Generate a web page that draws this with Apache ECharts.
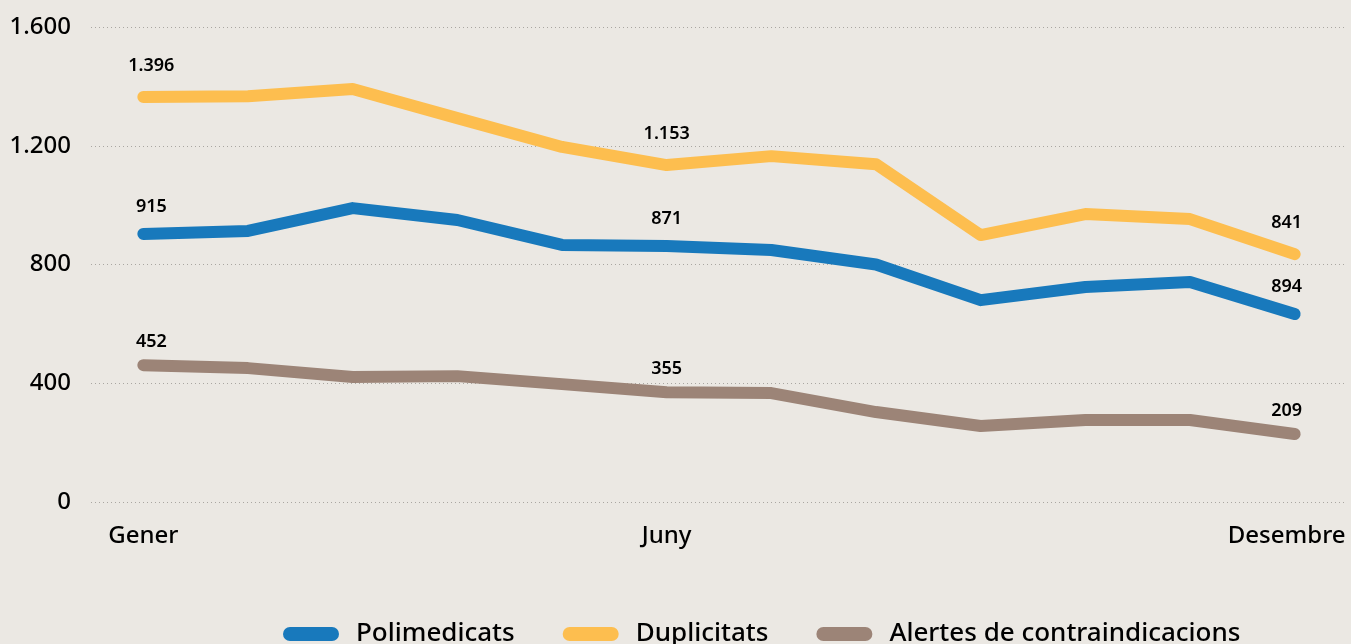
<!DOCTYPE html>
<html>
<head>
<meta charset="utf-8">
<script src="https://cdn.jsdelivr.net/npm/echarts@6/dist/echarts.min.js"></script>
<style>
  html, body { margin: 0; padding: 0; background: #ebe8e3; }
  #chart { width: 1351px; height: 644px; }
</style>
</head>
<body>
<div id="chart"></div>
<script>
// mesos
const months = ['Gener', 'Febrer', 'Març', 'Abril', 'Maig', 'Juny', 'Juliol', 'Agost', 'Setembre', 'Octubre', 'Novembre', 'Desembre'];
const shownMonths = [0, 5, 11];

// valors llegits del gràfic
const polimedicats = [903, 913, 990, 950, 866, 862, 849, 800, 680, 724, 741, 633];
const duplicitats = [1364, 1367, 1391, 1293, 1196, 1135, 1165, 1138, 899, 970, 953, 835];
const alertes = [461, 451, 421, 424, 397, 370, 367, 303, 256, 276, 276, 229];

// etiquetes escrites al gràfic (Gener, Juny, Desembre)
const labelIdx = [0, 5, 11];
const polimedicatsLabels = ['915', '871', '894'];
const duplicitatsLabels = ['1.396', '1.153', '841'];
const alertesLabels = ['452', '355', '209'];

const yTicks = ['0', '400', '800', '1.200', '1.600'];

const FONT = '"Noto Sans", "Open Sans", sans-serif';

function buildData(values, labels, dist) {
  return values.map((v, i) => {
    const k = labelIdx.indexOf(i);
    if (k < 0) return v;
    let off = [0, 0];
    if (i === 0) off = [8, 0];
    if (i === values.length - 1) off = [-8, 0];
    return {
      value: v,
      label: {
        show: true,
        position: 'top',
        distance: dist,
        offset: off,
        formatter: labels[k],
        color: '#000',
        fontFamily: FONT,
        fontSize: 18,
        fontWeight: 600
      }
    };
  });
}

function lineSeries(name, values, labels, color, dist) {
  return {
    name: name,
    type: 'line',
    data: buildData(values, labels, dist),
    symbol: 'circle',
    symbolSize: 0,
    showSymbol: true,
    itemStyle: { color: color },
    lineStyle: { width: 12, color: color, cap: 'round', join: 'round' },
    label: { show: false },
    emphasis: { disabled: true },
    animation: false
  };
}

const pill = 'path://M7,0 L49,0 A7,7 0 0 1 49,14 L7,14 A7,7 0 0 1 7,0 Z';

let myChart = echarts.init(document.getElementById('chart'));
myChart.setOption({
  backgroundColor: '#ebe8e3',
  grid: { left: 91, right: 4, top: 27, bottom: 142 },
  legend: {
    left: 278,
    top: 614,
    itemWidth: 56,
    itemHeight: 14,
    itemGap: 48,
    icon: pill,
    textStyle: {
      color: '#000',
      fontFamily: FONT,
      fontSize: 26,
      fontWeight: 500,
      lineHeight: 30,
      padding: [0, 0, 0, 12]
    },
    data: [
      { name: 'Polimedicats', icon: pill },
      { name: 'Duplicitats', icon: pill },
      { name: 'Alertes de contraindicacions', icon: pill }
    ]
  },
  xAxis: {
    type: 'category',
    boundaryGap: true,
    data: months,
    axisLine: { show: false },
    axisTick: { show: false },
    axisLabel: {
      margin: 22,
      color: '#000',
      fontFamily: FONT,
      fontSize: 24,
      fontWeight: 500,
      interval: (i) => shownMonths.indexOf(i) >= 0,
      formatter: (v, i) => i === months.length - 1 ? '{last|' + v + '}' : v,
      rich: { last: { fontFamily: FONT, fontSize: 24, fontWeight: 500, color: '#000', padding: [0, 16, 0, 0] } }
    }
  },
  yAxis: {
    type: 'value',
    min: 0,
    max: 1600,
    interval: 400,
    axisLine: { show: false },
    axisTick: { show: false },
    splitLine: { lineStyle: { color: '#a9a6a1', type: [1, 3], width: 1 } },
    axisLabel: {
      margin: 20,
      color: '#000',
      fontFamily: FONT,
      fontSize: 24,
      fontWeight: 500,
      formatter: (v) => yTicks[v / 400]
    }
  },
  series: [
    lineSeries('Polimedicats', polimedicats, polimedicatsLabels, '#1879bc', 18),
    lineSeries('Duplicitats', duplicitats, duplicitatsLabels, '#fdbe4f', 22),
    lineSeries('Alertes de contraindicacions', alertes, alertesLabels, '#9c8477', 14)
  ]
});
</script>
</body>
</html>
